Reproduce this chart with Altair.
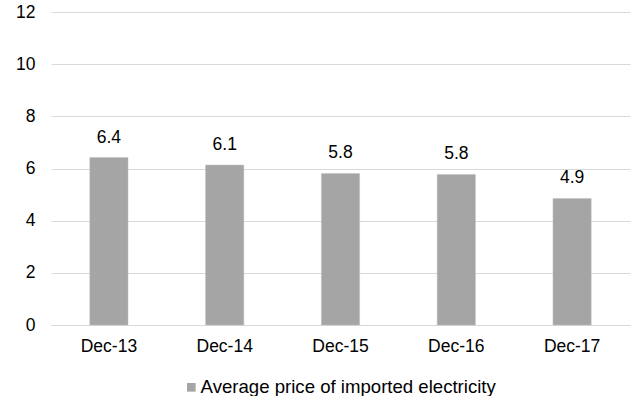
import altair as alt
import pandas as pd

categories = ["Dec-13", "Dec-14", "Dec-15", "Dec-16", "Dec-17"]
values = [6.42, 6.13, 5.81, 5.77, 4.85]
labels = ["6.4", "6.1", "5.8", "5.8", "4.9"]
series = "Average price of imported electricity"

df = pd.DataFrame({"cat": categories, "val": values, "lab": labels, "series": series})

FONT = "Liberation Sans"
FS = 17.5

x = alt.X("cat:N", sort=categories, title=None,
          scale=alt.Scale(paddingInner=0.67, paddingOuter=0.335),
          axis=alt.Axis(labelAngle=0, labelFontSize=FS, labelColor="#000000",
                        labelFont=FONT, ticks=False, domain=True, domainColor="#d9d9d9",
                        labelPadding=12, grid=False))
y = alt.Y("val:Q", title=None,
          scale=alt.Scale(domain=[0, 12], nice=False),
          axis=alt.Axis(values=[0, 2, 4, 6, 8, 10, 12], labelFontSize=FS, labelColor="#000000",
                        labelFont=FONT, ticks=False, domain=False, gridColor="#d9d9d9",
                        labelPadding=16))

bars = alt.Chart(df).mark_bar(stroke="#bfbfbf", strokeWidth=0.5).encode(
    x=x, y=y,
    color=alt.Color("series:N", scale=alt.Scale(range=["#a5a5a5"]),
                    legend=alt.Legend(title=None, orient="none", legendX=131, legendY=366,
                                      direction="horizontal", symbolType="square",
                                      symbolSize=75, labelFontSize=18.6, labelFont=FONT,
                                      labelColor="#000000", symbolStrokeWidth=0,
                                      labelLimit=400, labelOffset=0))
)

text = alt.Chart(df).mark_text(baseline="alphabetic", dy=-15, fontSize=FS, font=FONT,
                               color="#000000").encode(
    x=alt.X("cat:N", sort=categories), y=alt.Y("val:Q"), text="lab:N")

chart = (bars + text).properties(
    width=579, height=313,
    autosize=alt.AutoSizeParams(type="none"),
    padding={"left": 51, "top": 12, "right": 4, "bottom": 71},
).configure_view(stroke=None).configure_axisY(gridWidth=1)

chart.save("out.html", embed_options={"renderer": "svg", "actions": False})
